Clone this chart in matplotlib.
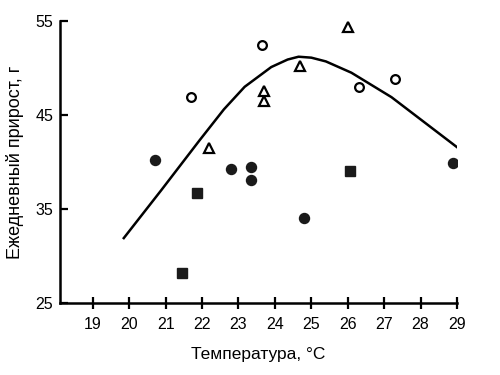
import matplotlib
matplotlib.use("Agg")
import matplotlib.pyplot as plt

plt.rcParams['font.family'] = ['Liberation Sans', 'DejaVu Sans']

# Data
fc_x = [20.72, 22.8, 23.35, 23.35, 24.8, 28.9]
fc_y = [40.2, 39.3, 39.5, 38.1, 34.0, 39.9]
sq_x = [21.45, 21.85, 26.05]
sq_y = [28.2, 36.7, 39.0]
oc_x = [21.7, 23.65, 26.3, 27.3]
oc_y = [46.9, 52.4, 48.0, 48.8]
tr_x = [22.2, 23.7, 23.7, 24.7, 26.0]
tr_y = [41.5, 47.6, 46.5, 50.2, 54.4]
curve_x = [19.83, 20.88, 21.93, 22.6, 23.17, 23.9, 24.35, 24.65, 25.0, 25.4, 26.1, 27.2, 29.06]
curve_y = [31.8, 37.0, 42.3, 45.6, 48.0, 50.1, 50.9, 51.2, 51.1, 50.7, 49.5, 46.9, 41.4]
xticks = [19, 20, 21, 22, 23, 24, 25, 26, 27, 28, 29]
yticks = [25, 35, 45, 55]

fig = plt.figure(figsize=(5, 3.75), dpi=100)
ax = fig.add_axes([0.12, 0.192, 0.794, 0.752])

ax.plot(curve_x, curve_y, color='black', lw=1.8, solid_capstyle='butt',
        solid_joinstyle='round', zorder=2)
ax.plot(fc_x, fc_y, 'o', color='#1a1a1a', ms=7.2, mec='#1a1a1a', zorder=3)
ax.plot(sq_x, sq_y, 's', color='#1a1a1a', ms=6.8, mec='#1a1a1a', zorder=3)
ax.plot(oc_x, oc_y, 'o', mfc='white', mec='black', mew=1.6, ms=6.3, zorder=3)
ax.plot(tr_x, tr_y, '^', mfc='white', mec='black', mew=1.6, ms=6.5, zorder=3)

ax.set_xlim(18.1, 29)
ax.set_ylim(25, 55)
ax.set_xticks(xticks)
ax.set_yticks(yticks)
for s in ['top', 'right']:
    ax.spines[s].set_visible(False)
for s in ['left', 'bottom']:
    ax.spines[s].set_linewidth(1.8)
ax.tick_params(axis='x', direction='inout', length=8, width=1.6, labelsize=11.5, pad=6)
ax.tick_params(axis='y', direction='in', length=6, width=1.6, labelsize=11.5, pad=5)

ax.set_xlabel('Температура, °C', fontsize=12.5, labelpad=11)
ax.set_ylabel('Ежедневный прирост, г', fontsize=13, labelpad=8)

fig.savefig('out.png', dpi=100)
